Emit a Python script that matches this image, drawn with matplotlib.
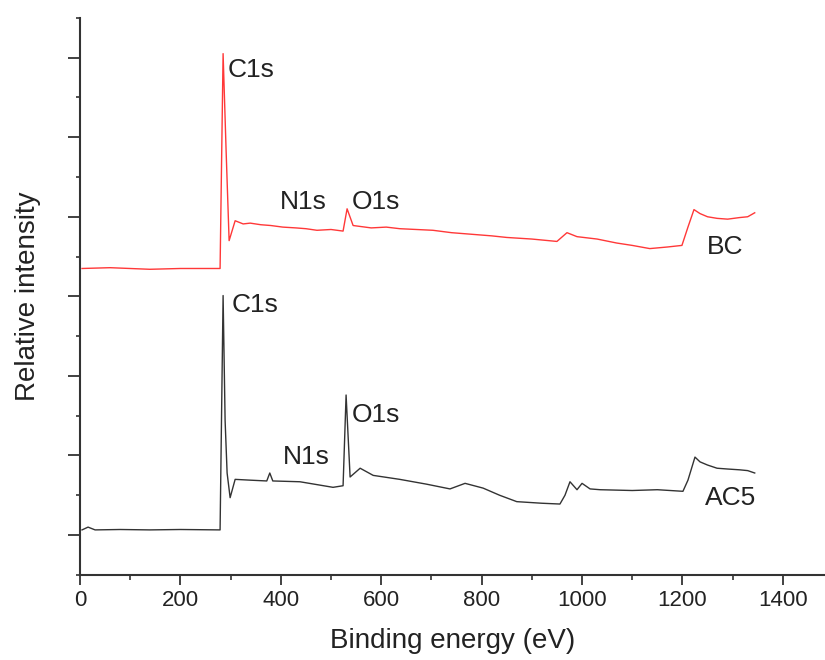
import matplotlib
matplotlib.use("Agg")
import matplotlib.pyplot as plt
from matplotlib.ticker import MultipleLocator, NullFormatter

# BC spectrum (red)
bc_x = [4, 60, 139, 200, 279, 285, 291, 297, 309, 325, 339, 360, 380, 404, 430, 450, 472,
        500, 524, 532, 544, 580, 610, 637, 670, 703, 740, 780, 820, 850, 900, 950, 970,
        990, 1030, 1069, 1100, 1135, 1170, 1199, 1211, 1223, 1235, 1250, 1269, 1290, 1314,
        1330, 1344]
bc_y = [3.85, 3.86, 3.84, 3.85, 3.85, 6.55, 5.33, 4.20, 4.45, 4.41, 4.42, 4.40, 4.39, 4.37,
        4.36, 4.35, 4.33, 4.34, 4.32, 4.60, 4.39, 4.36, 4.37, 4.35, 4.34, 4.33, 4.30, 4.28,
        4.26, 4.24, 4.22, 4.19, 4.30, 4.25, 4.22, 4.17, 4.14, 4.10, 4.12, 4.14, 4.37, 4.59,
        4.54, 4.50, 4.48, 4.47, 4.49, 4.50, 4.55]

# AC5 spectrum (black)
ac_x = [4, 16, 30, 80, 139, 200, 279, 285, 289, 293, 299, 309, 339, 372, 378, 384, 438,
        504, 524, 530, 538, 558, 584, 637, 690, 737, 767, 803, 836, 870, 920, 956, 966,
        976, 990, 1000, 1016, 1036, 1100, 1150, 1201, 1211, 1225, 1235, 1250, 1269, 1290,
        1314, 1330, 1344]
ac_y = [0.565, 0.60, 0.565, 0.57, 0.565, 0.57, 0.565, 3.51, 1.94, 1.28, 0.97, 1.20, 1.19,
        1.18, 1.28, 1.18, 1.17, 1.10, 1.12, 2.26, 1.23, 1.34, 1.25, 1.20, 1.14, 1.08, 1.15,
        1.09, 1.00, 0.92, 0.90, 0.89, 1.00, 1.17, 1.07, 1.15, 1.08, 1.07, 1.06, 1.07, 1.05,
        1.19, 1.48, 1.42, 1.38, 1.34, 1.33, 1.32, 1.31, 1.28]

# peak labels: text, x, y (left edge, vertical centre)
bc_labels = [("C1s", 295, 6.34), ("N1s", 398, 4.68), ("O1s", 541, 4.68)]
ac_labels = [("C1s", 302, 3.39), ("N1s", 404, 1.48), ("O1s", 541, 2.01)]
name_labels = [("BC", 1285, 4.12), ("AC5", 1295, 0.97)]

plt.rcParams['font.family'] = ['Liberation Sans', 'DejaVu Sans']
txt = '#222222'

fig = plt.figure(figsize=(8.25, 6.6), dpi=100)
ax = fig.add_axes([0.097, 0.129, 0.903, 0.844])

ax.plot(bc_x, bc_y, color='#ff3838', lw=1.0)
ax.plot(ac_x, ac_y, color='#333333', lw=1.0)

for t, x, y in bc_labels + ac_labels:
    ax.text(x, y, t, fontsize=19, color=txt, ha='left', va='center')
for t, x, y in name_labels:
    ax.text(x, y, t, fontsize=19, color=txt, ha='center', va='center')

ax.set_xlim(0, 1484)
ax.set_ylim(0, 7)
ax.xaxis.set_major_locator(MultipleLocator(200))
ax.xaxis.set_minor_locator(MultipleLocator(100))
ax.set_yticks([0.5, 1.5, 2.5, 3.5, 4.5, 5.5, 6.5])
ax.set_yticks(range(0, 8), minor=True)
ax.yaxis.set_major_formatter(NullFormatter())

for s in ['top', 'right']:
    ax.spines[s].set_visible(False)
for s in ['left', 'bottom']:
    ax.spines[s].set_linewidth(1.5)
    ax.spines[s].set_color('#333333')

ax.tick_params(axis='x', which='major', length=7, width=1.3, color='#333333',
               labelsize=16, labelcolor=txt, pad=4)
ax.tick_params(axis='x', which='minor', length=3.5, width=1.2, color='#333333')
ax.tick_params(axis='y', which='major', length=8.6, width=1.3, color='#333333')
ax.tick_params(axis='y', which='minor', length=3, width=1.2, color='#333333')

ax.set_xlabel('Binding energy (eV)', fontsize=20, color=txt, labelpad=12)
ax.set_ylabel('Relative intensity', fontsize=20, color=txt, labelpad=16)

fig.savefig('out.png', dpi=100)
